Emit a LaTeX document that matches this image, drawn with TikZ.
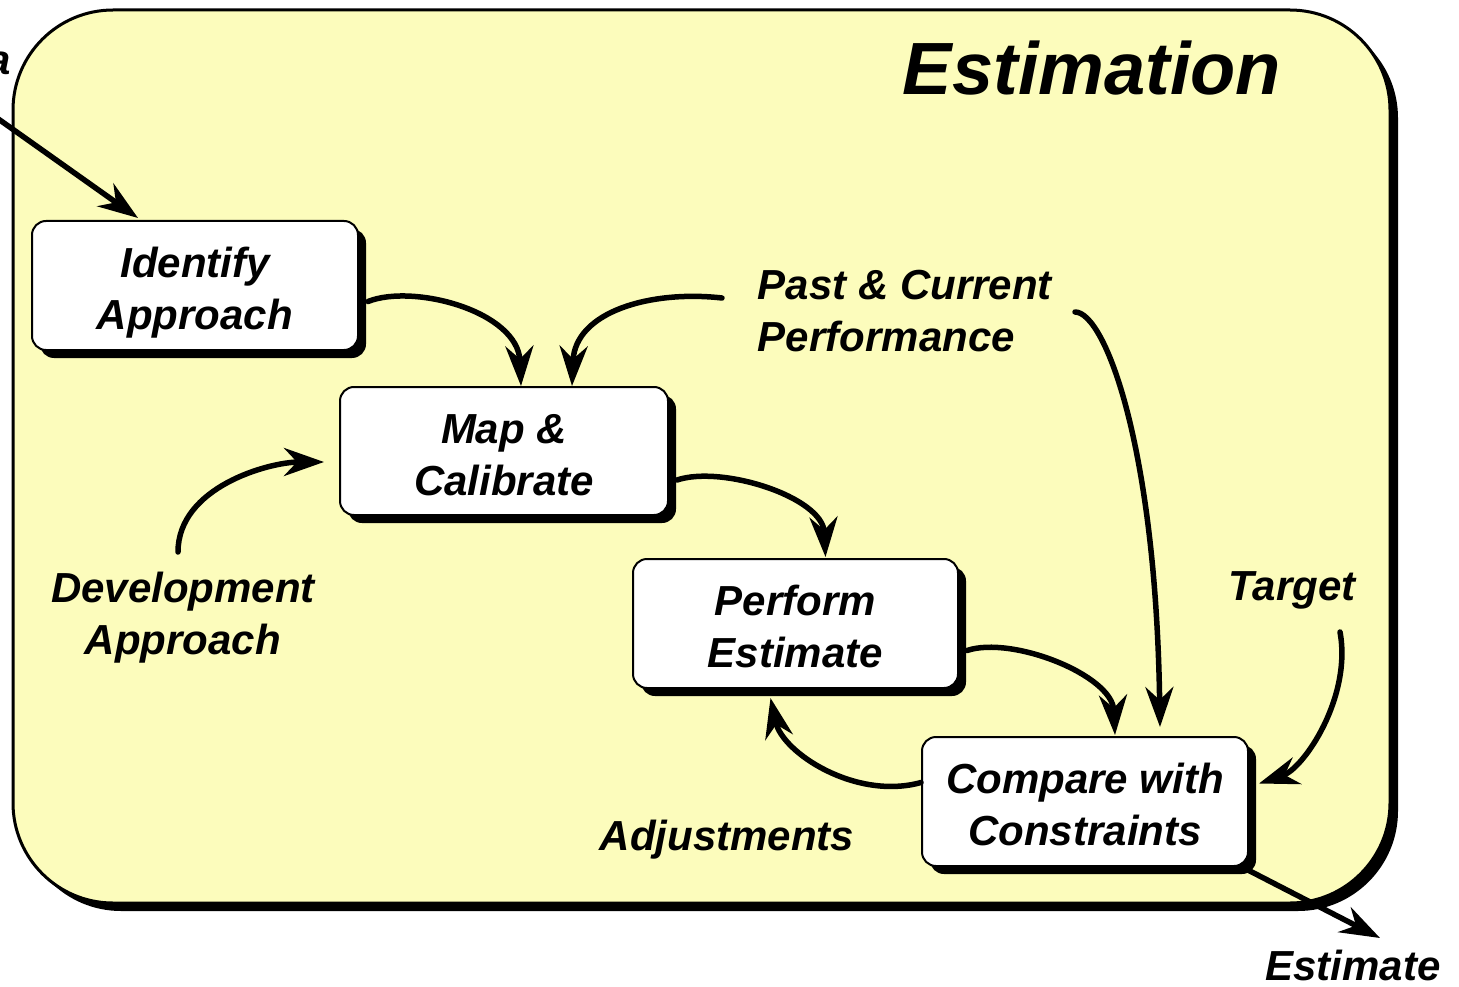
\documentclass[tikz,border=0pt]{standalone}
\usepackage{fontspec}
\setmainfont{Liberation Sans}
\usetikzlibrary{arrows.meta,calc,shadows}
\definecolor{bgyellow}{RGB}{252,252,188}
\tikzset{
  lbl/.style={font=\fontsize{42}{52}\selectfont\bfseries\itshape, inner sep=0pt, align=center},
  stepbox/.style={draw, line width=2pt, fill=white, rounded corners=14pt, inner sep=0pt,
    minimum width=326pt, minimum height=129pt, align=center,
    text height=96pt, text depth=8pt,
    font=\fontsize{42}{52}\selectfont\bfseries\itshape,
    general shadow={fill=black, shadow xshift=8pt, shadow yshift=-8pt}},
  arr/.style={line width=5.5pt, line cap=round, -{Stealth[length=40pt, width=28pt, inset=13pt]}}
}
\begin{document}
\begin{tikzpicture}[x=1pt,y=-1pt]
\useasboundingbox (0,0) rectangle (1459,987);
% frame
\draw[line width=3pt, fill=bgyellow, rounded corners=100pt,
  general shadow={fill=black, shadow xshift=8pt, shadow yshift=-8pt}]
  (13,10) rectangle (1390,903);
\node[lbl, font=\fontsize{74}{80}\selectfont\bfseries\itshape] (title) at (1092,68) {Estimation};

% boxes
\node[stepbox] (ident) at (195,285.5) {Identify\\Approach};
\node[stepbox, minimum width=328pt, minimum height=128pt] (map) at (504,451) {Map \&\\Calibrate};
\node[stepbox, minimum width=325pt] (perf) at (795.5,623.5) {Perform\\Estimate};
\node[stepbox] (comp) at (1085,801.5) {Compare with\\Constraints};

% labels
\node[lbl, anchor=base east] (data) at (11,75) {Data};
\node[lbl, align=left] (past) at (905,311) {Past \& Current\\Performance};
\node[lbl] (dev) at (183,618) {Development\\Approach};
\node[lbl] (target) at (1292,590) {Target};
\node[lbl] (adj) at (727,840) {Adjustments};
\node[lbl] (est) at (1353,965) {Estimate};

\coordinate (ext) at (-20,106);
\coordinate (outtip) at ($(est.center)+(27,-27)$);

% connectors
\draw[arr] (ext) -- ($(ident.north)+(-57,-2)$);
\draw[arr] ($(ident.east)+(9,16)$) .. controls +(45,-18) and +(-3,-75) .. ($(map.north)+(17,0)$);
\draw[arr] ($(past.center)+(-183,-13)$) .. controls +(-70,-8) and +(3,-75) .. ($(map.north)+(68,0)$);
\draw[arr] ($(dev.center)+(-5,-66)$) .. controls +(0,-65) and +(-55,0) .. ($(map.west)+(-15,11)$);
\draw[arr] ($(map.east)+(8,29)$) .. controls +(45,-15) and +(-3,-60) .. ($(perf.north)+(30,-1)$);
\draw[arr] ($(perf.east)+(8,27)$) .. controls +(45,-15) and +(-3,-60) .. ($(comp.north)+(30,-1)$);
\draw[arr] ($(past.center)+(170,1)$) .. controls +(30,0) and +(-4,-280) .. ($(comp.north)+(75,-9)$);
\draw[arr] ($(target.center)+(48,42)$) .. controls +(12,65) and +(45,-15) .. ($(comp.east)+(10,-18)$);
\draw[arr] ($(comp.west)+(0,-19)$) .. controls +(-65,18) and +(12,55) .. ($(perf.south)+(-25,9)$);
\draw[arr] ($(comp.south east)+(-3,2)$) -- (outtip);
\end{tikzpicture}
\end{document}
